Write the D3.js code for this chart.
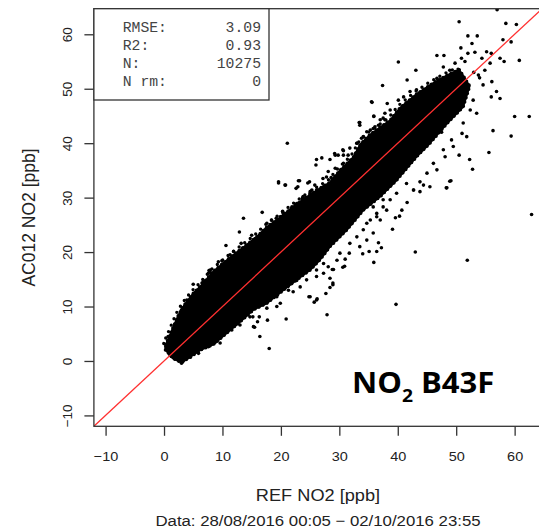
<!DOCTYPE html>
<html lang="en">
<head>
<meta charset="UTF-8">
<title>NO2 B43F</title>
<style>
  body { margin: 0; background: #fff; }
  svg { display: block; }
  .tick text { font-family: "Liberation Sans", Arial, sans-serif; font-size: 13.5px; fill: #222; }
  .tick line { stroke: #333; stroke-width: 1.3; }
</style>
</head>
<body>
<svg id="chart"></svg>
<script src="https://d3js.org/d3.v7.min.js"></script>
<script>
// ticks
var xTicks = [-10, 0, 10, 20, 30, 40, 50, 60]
var yTicks = [-10, 0, 10, 20, 30, 40, 50, 60]

// stats box
var statLabels = ["RMSE:", "R2:", "N:", "N rm:"]
var statValues = ["3.09", "0.93", "10275", "0"]

// dense core of the cloud (REF, AC012), upper edge left->right, lower edge right->left
var coreUpperX = [0.3, 1.5, 2.5, 3.5, 5.0, 6.5, 8.4, 11.3, 13.6, 15.9, 17.6, 19.9, 22.1, 24.4, 26.7, 28.4, 30.1, 32.4, 33.6, 35.3, 37.0, 38.7, 40.4, 43.2, 46.0, 48.5, 50.5]
var coreUpperY = [3.0, 6.0, 8.5, 10.3, 12.4, 14.0, 16.4, 19.0, 20.9, 22.8, 24.6, 26.4, 28.3, 30.1, 31.7, 32.8, 35.0, 37.4, 39.8, 41.6, 42.9, 44.2, 46.5, 49.0, 51.0, 52.5, 53.5]
var coreLowerX = [52.3, 51.2, 48.4, 45.5, 43.2, 39.8, 37.0, 34.1, 31.3, 28.4, 26.7, 25.0, 22.7, 20.4, 17.6, 15.3, 14.7, 12.7, 10.7, 8.4, 6.2, 5.0, 3.0, 1.5, 0.3]
var coreLowerY = [50.5, 46.7, 43.6, 40.0, 37.5, 33.2, 30.2, 27.7, 24.1, 21.0, 18.6, 16.7, 14.9, 13.0, 10.6, 9.4, 8.8, 6.9, 5.1, 3.0, 2.0, 1.1, -0.3, 0.5, 2.0]

// individual points around the core
var refNO2 = [57.0, 50.5, 58.5, 60.3, 52.0, 53.6, 58.0, 59.4, 52.7, 50.8, 55.2, 46.7, 47.9, 52.0, 53.2, 56.0, 57.5, 58.2, 60.8, 40.1,
  43.1, 41.6, 37.4, 56.0, 57.5, 35.5, 38.2, 60.0, 62.5, 33.5, 35.9, 56.3, 59.4, 55.6, 52.8, 52.3, 50.5, 48.4, 49.1, 30.7,
  29.3, 30.6, 54.4, 55.8, 54.9, 53.8, 56.1, 56.9, 54.6, 52.9, 52.4, 53.5, 51.2, 51.0, 51.8, 49.2, 49.5, 47.8, 48.1, 46.1,
  46.7, 45.0, 43.8, 45.5, 42.7, 46.7, 47.8, 48.9, 49.8, 50.9, 51.5, 50.7, 43.2, 42.1, 41.0, 40.1, 38.7, 37.8, 37.0, 36.1,
  35.3, 34.1, 33.0, 31.8, 62.9, 43.0, 51.9, 39.7, 39.1, 35.9, 36.4, 37.2, 36.7, 35.1, 34.0, 31.7, 31.0, 30.6, 29.0, 28.9,
  28.4, 48.3, 48.9, 43.8, 44.4, 41.6, 40.7, 40.3, 39.6, 41.5, 42.7, 39.8, 38.7, 37.5, 36.4, 35.3, 37.0, 34.1, 35.8, 33.0,
  34.7, 31.8, 33.5, 30.1, 29.6, 18.0, 16.4, 15.5, 17.7, 20.9, 19.3, 27.9, 24.8, 26.1, 25.7, 27.7, 28.4, 28.9, 28.8, 30.9,
  10.6, 5.0, 7.9, 9.3, 10.0, 6.7, 15.2, 16.0, 22.1, 22.7, 19.6, 20.8, 22.9, 23.0, 24.6, 16.8, 13.6, 12.9, 13.2, 9.9,
  7.7, 8.7, 26.2, 22.4, 23.0, 26.1, 26.4, 27.3, 21.1, 35.6, 35.9, 37.5, 33.4, 26.1, 27.0, 26.0, 29.2, 29.8, 30.7, 28.4,
  19.6, 20.7, 23.2, 24.9, 22.6, 27.2, 28.1, 28.6, 23.7, 25.3, 20.3, 19.2, 6.5, 7.6, 3.9, 3.0, 2.4, 1.6, 0.7, 0.3,
  1.0, 2.4, 3.0, 3.3, 4.5, 5.9, 7.6, 9.6, 8.7, 11.6, 13.0, 14.7, 15.3, 16.3, 17.6, 19.3, 19.9, 21.3, 23.3, 24.4,
  25.0, 26.1, 27.3, 28.1, 7.9, 11.3, 11.9, 14.2, 15.0, 15.6, 17.6, 18.4, 19.9, 20.4, 21.9, 22.7, 23.8, 25.0, 26.1, 27.3,
  23.8, 25.0, 25.8, 27.8, 29.3, 30.7, 31.5, 33.0, 33.8, 34.7, 35.8, 36.7, 37.8, 33.5, 34.7, 35.8, 33.5, 36.4, 34.7, 37.5,
  38.1, 44.5, 45.5, 46.5, 47.0, 48.0, 49.0, 50.0, 51.0, 49.5, 50.5, 53.0, 54.0, 44.0, 46.0, 47.5, 45.0]
var acNO2 = [64.5, 62.3, 62.0, 61.8, 59.7, 59.7, 59.0, 58.6, 58.3, 57.5, 56.8, 56.1, 56.1, 56.5, 56.7, 56.5, 55.6, 55.0, 55.2, 54.9,
  53.4, 51.6, 50.6, 48.5, 48.2, 47.6, 47.3, 44.9, 44.9, 43.8, 44.9, 42.3, 41.3, 38.3, 35.2, 37.0, 37.8, 31.8, 33.1, 37.8,
  37.8, 38.8, 55.6, 54.7, 53.4, 52.5, 51.3, 49.5, 50.7, 47.9, 46.1, 45.5, 43.7, 41.8, 41.2, 40.6, 39.4, 38.8, 37.5, 36.3,
  35.1, 34.5, 32.9, 32.0, 31.4, 51.9, 54.0, 53.4, 54.7, 55.6, 55.0, 51.9, 49.8, 49.5, 48.5, 47.9, 46.1, 45.5, 44.3, 43.0,
  42.4, 41.2, 40.0, 39.1, 26.9, 20.0, 18.5, 10.4, 24.2, 18.1, 20.1, 20.8, 21.7, 20.1, 19.7, 19.8, 18.7, 17.2, 16.8, 14.0,
  15.2, 31.8, 33.0, 31.1, 32.3, 29.1, 27.7, 26.6, 26.3, 32.6, 31.4, 30.8, 29.6, 28.3, 27.1, 25.9, 25.9, 24.1, 23.5, 22.8,
  22.2, 21.6, 21.0, 19.8, 18.5, 2.3, 4.5, 6.2, 7.5, 7.7, 10.0, 8.5, 11.8, 11.2, 10.8, 12.4, 13.5, 14.3, 16.8, 17.4,
  21.2, 14.1, 16.3, 18.2, 17.8, 14.5, 8.1, 7.2, 12.7, 14.8, 32.7, 32.3, 32.0, 33.1, 32.7, 27.3, 26.2, 23.7, 21.6, 18.4,
  16.6, 15.5, 11.4, 14.9, 15.8, 16.7, 18.5, 17.9, 40.0, 47.5, 45.0, 44.6, 43.8, 37.0, 37.3, 36.0, 38.1, 37.8, 38.6, 37.0,
  32.9, 32.3, 33.1, 32.9, 31.7, 33.5, 34.8, 33.7, 29.9, 31.4, 27.5, 26.2, 14.3, 16.1, 11.2, 9.4, 7.5, 5.7, 4.5, 2.6,
  1.5, 0.7, -0.4, 0.2, 0.7, 1.4, 2.6, 3.3, 3.4, 5.7, 6.6, 8.1, 6.3, 8.1, 9.7, 11.8, 10.6, 13.0, 13.6, 14.9,
  11.8, 15.5, 16.1, 17.3, 16.7, 19.5, 20.1, 21.0, 23.1, 22.5, 25.3, 25.9, 26.5, 27.1, 28.3, 28.9, 29.9, 30.8, 31.4, 32.0,
  30.2, 31.1, 32.3, 33.8, 35.4, 36.3, 37.8, 40.0, 40.9, 42.1, 42.7, 43.3, 44.3, 43.3, 29.6, 28.3, 27.1, 26.5, 25.3, 29.6,
  27.7, 46.0, 47.5, 48.0, 45.5, 47.0, 48.5, 50.5, 51.0, 45.5, 47.5, 53.0, 52.0, 42.5, 43.5, 42.0, 44.0]

var svgWidth = 539, svgHeight = 529
var svg = d3.select('#chart')
    .attr('width', svgWidth)
    .attr('height', svgHeight)

var xScale = d3.scaleLinear().domain([-12, 64.7]).range([93.9, 542.1])
var yScale = d3.scaleLinear().domain([-12, 64.7]).range([426.3, 8.7])
var stretch = 'scale(1.07,1)'

svg.append('clipPath').attr('id', 'plotClip')
    .append('rect')
    .attr('x', xScale(-12)).attr('y', yScale(64.7))
    .attr('width', xScale(64.7) - xScale(-12))
    .attr('height', yScale(-12) - yScale(64.7))

var plot = svg.append('g').attr('clip-path', 'url(#plotClip)')

// dense part of the cloud
var corePts = []
coreUpperX.forEach(function (d, i) { corePts.push([d, coreUpperY[i]]) })
coreLowerX.forEach(function (d, i) { corePts.push([d, coreLowerY[i]]) })
var coreLine = d3.line()
    .x(function (d) { return xScale(d[0]) })
    .y(function (d) { return yScale(d[1]) })
    .curve(d3.curveLinearClosed)
plot.append('path')
    .attr('d', coreLine(corePts))
    .attr('fill', '#000')
    .attr('stroke', '#000')
    .attr('stroke-width', 2)
    .attr('stroke-linejoin', 'round')
// dotted fringe so the edge reads as points
plot.append('path')
    .attr('d', coreLine(corePts))
    .attr('fill', 'none')
    .attr('stroke', '#000')
    .attr('stroke-width', 3.6)
    .attr('stroke-linecap', 'round')
    .attr('stroke-dasharray', '0 4.5')
plot.append('path')
    .attr('d', coreLine(corePts))
    .attr('fill', 'none')
    .attr('stroke', '#000')
    .attr('stroke-width', 3.4)
    .attr('stroke-linecap', 'round')
    .attr('stroke-dasharray', '0 7')
    .attr('stroke-dashoffset', 2)
    .attr('transform', 'translate(-2,-2)')

plot.selectAll('circle.pt')
    .data(refNO2)
    .enter()
    .append('circle')
    .attr('class', 'pt')
    .attr('cx', function (d) { return xScale(d) })
    .attr('cy', function (d, i) { return yScale(acNO2[i]) })
    .attr('r', 1.8)
    .attr('fill', '#000')

// 1:1 line
plot.append('line')
    .attr('x1', xScale(-12)).attr('y1', yScale(-12))
    .attr('x2', xScale(64.7)).attr('y2', yScale(64.7))
    .attr('stroke', '#ff3030')
    .attr('stroke-width', 1.3)

// axes
var xAxis = svg.append('g')
    .attr('transform', 'translate(0,' + yScale(-12) + ')')
    .call(d3.axisBottom(xScale).tickValues(xTicks).tickSize(9.5).tickPadding(15.5))
xAxis.select('.domain').remove()
xAxis.selectAll('text').attr('transform', stretch)

var yAxis = svg.append('g')
    .attr('transform', 'translate(' + xScale(-12) + ',0)')
    .call(d3.axisLeft(yScale).tickValues(yTicks).tickSize(9.5))
yAxis.select('.domain').remove()
yAxis.selectAll('text')
    .attr('x', null).attr('dy', null)
    .attr('text-anchor', 'middle')
    .attr('transform', 'translate(-22.3,0) rotate(-90)')

// frame
svg.append('rect')
    .attr('x', xScale(-12)).attr('y', yScale(64.7))
    .attr('width', xScale(64.7) - xScale(-12))
    .attr('height', yScale(-12) - yScale(64.7))
    .attr('fill', 'none')
    .attr('stroke', '#333')
    .attr('stroke-width', 1.3)

// stats box
svg.append('rect')
    .attr('x', xScale(-12)).attr('y', yScale(64.7))
    .attr('width', 269 - xScale(-12))
    .attr('height', 100 - yScale(64.7))
    .attr('fill', '#fff')
    .attr('stroke', '#333')
    .attr('stroke-width', 1.3)

var stats = svg.append('g')
    .attr('font-family', '"Liberation Mono", "Courier New", monospace')
    .attr('font-size', 13.8)
    .attr('fill', '#444')
statLabels.forEach(function (d, i) {
    var y = 31.8 + i * 18.2
    stats.append('text')
        .attr('transform', 'translate(122.7,' + y + ') ' + stretch)
        .text(d)
    stats.append('text')
        .attr('transform', 'translate(261,' + y + ') ' + stretch)
        .attr('text-anchor', 'end')
        .text(statValues[i])
})

// titles
svg.append('text')
    .attr('transform', 'translate(318,501) ' + stretch)
    .attr('text-anchor', 'middle')
    .attr('font-family', '"Liberation Sans", Arial, sans-serif')
    .attr('font-size', 17)
    .attr('fill', '#222')
    .text('REF NO2 [ppb]')

svg.append('text')
    .attr('transform', 'translate(34.5,217.5) rotate(-90)')
    .attr('text-anchor', 'middle')
    .attr('font-family', '"Liberation Sans", Arial, sans-serif')
    .attr('font-size', 17.5)
    .attr('fill', '#222')
    .text('AC012 NO2 [ppb]')

svg.append('text')
    .attr('transform', 'translate(318,526) scale(1.12,1)')
    .attr('text-anchor', 'middle')
    .attr('font-family', '"Liberation Sans", Arial, sans-serif')
    .attr('font-size', 15)
    .attr('fill', '#222')
    .text('Data: 28/08/2016 00:05 \u2212 02/10/2016 23:55')

var tag = svg.append('text')
    .attr('transform', 'translate(352,393) ' + stretch)
    .attr('font-family', '"Open Sans", "Noto Sans", sans-serif')
    .attr('font-weight', 'bold')
    .attr('font-size', 29)
    .attr('fill', '#000')
tag.append('tspan').text('NO')
tag.append('tspan').attr('font-size', 18).attr('dy', 9).text('2')
tag.append('tspan').attr('dy', -9).text(' B43F')
</script>
</body>
</html>
